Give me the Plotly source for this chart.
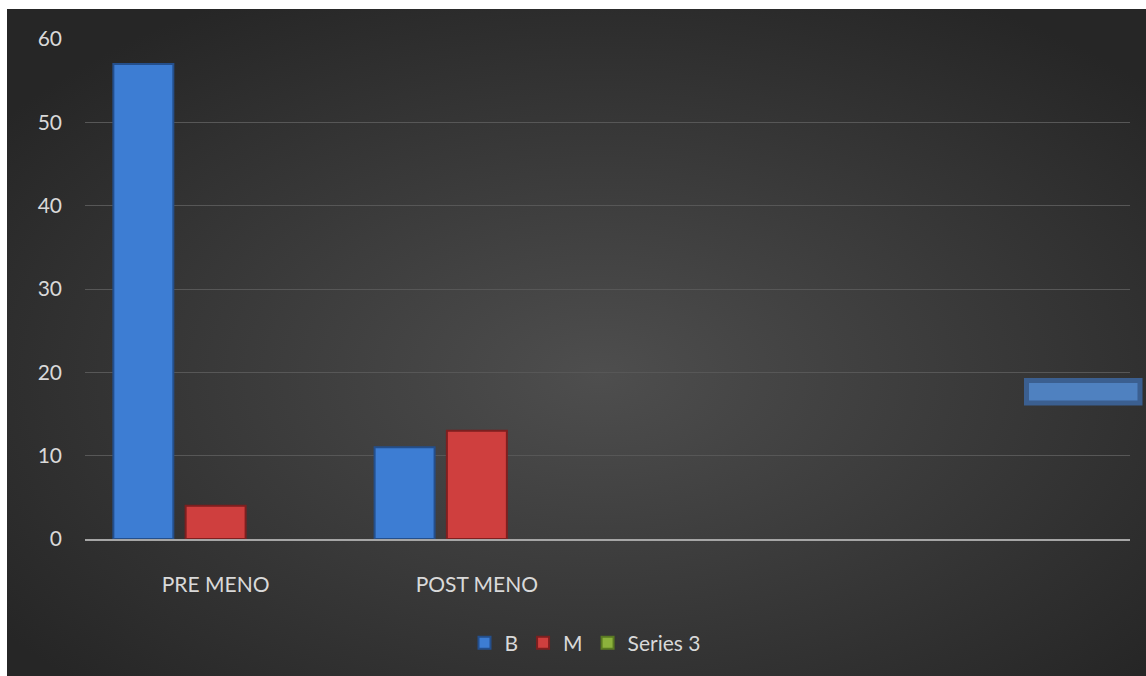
import plotly.graph_objects as go
import urllib.parse

# ---- data ----
categories = ["PRE MENO", "POST MENO", " ", "  "]
series_names = ["B", "M", "Series 3"]
b_values = [57, 11, None, None]
m_values = [4, 13, None, None]
s3_values = [None, None, None, None]
y_ticks = [0, 10, 20, 30, 40, 50, 60]

FONT = "Lato"
TXT = "#d9d9d9"

fig = go.Figure()
fig.add_trace(go.Bar(name=series_names[0], x=categories, y=b_values,
                     marker=dict(color="#3d7dd3", line=dict(color="#244f8c", width=2))))
fig.add_trace(go.Bar(name=series_names[1], x=categories, y=m_values,
                     marker=dict(color="#cf3f3e", line=dict(color="#7e1f1f", width=2))))
fig.add_trace(go.Bar(name=series_names[2], x=categories, y=s3_values,
                     marker=dict(color="#8cb23c", line=dict(color="#5a7a22", width=2))))

# background radial gradient (svg data uri)
svg = ('<svg xmlns="http://www.w3.org/2000/svg" width="1139" height="667" viewBox="0 0 1139 667" preserveAspectRatio="none">'
       '<defs><radialGradient id="g" cx="52%" cy="55%" r="65%">'
       '<stop offset="0%" stop-color="#4e4e4e"/><stop offset="100%" stop-color="#262626"/>'
       '</radialGradient></defs><rect width="1139" height="667" fill="url(#g)"/></svg>')
src = "data:image/svg+xml;charset=utf-8," + urllib.parse.quote(svg)

W, H = 1146, 676
L, R, T, B = 85, 16, 39, 137
pw, ph = W - L - R, H - T - B

def px(xp):
    return (xp - L) / pw

def py(yp):
    return (H - B - yp) / ph

fig.update_layout(
    width=W, height=H,
    margin=dict(l=L, r=R, t=T, b=B),
    paper_bgcolor="white",
    plot_bgcolor="rgba(0,0,0,0)",
    font=dict(family=FONT, size=21, color=TXT),
    barmode="group",
    bargap=0.17,
    bargroupgap=0.17,
    showlegend=True,
    legend=dict(orientation="h", x=px(585), xanchor="center", y=py(643), yanchor="middle",
                font=dict(family=FONT, size=21, color=TXT), bgcolor="rgba(0,0,0,0)",
                itemwidth=30, traceorder="normal"),
    images=[dict(source=src, xref="paper", yref="paper", x=px(7), y=py(9),
                 sizex=px(1146) - px(7), sizey=py(9) - py(676),
                 xanchor="left", yanchor="top", sizing="stretch", layer="below")],
    shapes=[dict(type="rect", xref="paper", yref="paper",
                 x0=px(1026.5), x1=px(1140), y0=py(403), y1=py(380.5),
                 fillcolor="#4f81c0", line=dict(color="#3b5f90", width=5), layer="above")],
    xaxis=dict(type="category", categoryorder="array", categoryarray=categories,
               range=[-0.5, 3.5], showgrid=False, showline=True, linecolor="#a6a6a6",
               linewidth=2, ticks="", tickfont=dict(family=FONT, size=21, color=TXT),
               ticklabelstandoff=26, zeroline=False),
    yaxis=dict(range=[0, 60], tickvals=y_ticks, showgrid=True, gridcolor="#575757",
               gridwidth=1, zeroline=False, showline=False, ticks="",
               tickfont=dict(family=FONT, size=21, color=TXT), ticklabelstandoff=22),
)

fig.write_html("out.html")
